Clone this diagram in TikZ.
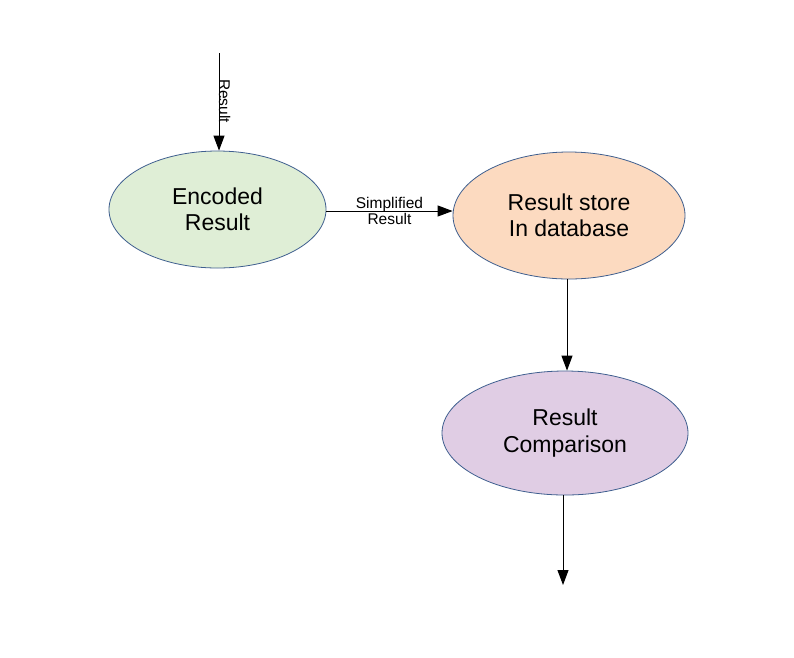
\documentclass[tikz,border=0pt]{standalone}
\usepackage{fontspec}
\setmainfont{Liberation Sans}
\usetikzlibrary{arrows.meta,shapes.geometric}
\definecolor{greenfill}{HTML}{DFEED6}
\definecolor{orangefill}{HTML}{FCDAC0}
\definecolor{purplefill}{HTML}{E0CDE4}
\definecolor{edgeblue}{HTML}{3F5F8F}
\begin{document}
\begin{tikzpicture}[x=1pt,y=-1pt,
  proc/.style={ellipse,draw=edgeblue,line width=0.8pt,inner sep=0pt,
    font=\fontsize{23}{26.5}\selectfont,align=center},
  conn/.style={line width=1pt,-{Triangle[length=15pt,width=11pt]}},
  lbl/.style={font=\fontsize{15.5}{16}\selectfont,align=center,inner sep=0pt}]
\useasboundingbox (0,0) rectangle (794,657);
\fill[white] (0,0) rectangle (794,657);
\node[proc,fill=greenfill,minimum width=217pt,minimum height=117pt] (enc) at (217.5,209.5) {Encoded\\Result};
\node[proc,fill=orangefill,minimum width=232pt,minimum height=127pt] (store) at (569,215.5) {Result store\\In database};
\node[proc,fill=purplefill,minimum width=246pt,minimum height=124pt] (cmp) at (565,433) {Result\\Comparison};
\coordinate (top) at (219,53);
\coordinate (bot) at (563,585);
\draw[conn] (top) -- (enc.north -| top);
\node[lbl,rotate=-90] (lres) at (224.6,101) {Result};
\draw[conn] (enc.east |- 0,211) -- (store.west |- 0,211) node[lbl,midway] (lsimp) {Simplified\\Result};
\draw[conn] (store.south -| 567,0) -- (cmp.north -| 567,0);
\draw[conn] (cmp.south -| bot) -- (bot);
\end{tikzpicture}
\end{document}
